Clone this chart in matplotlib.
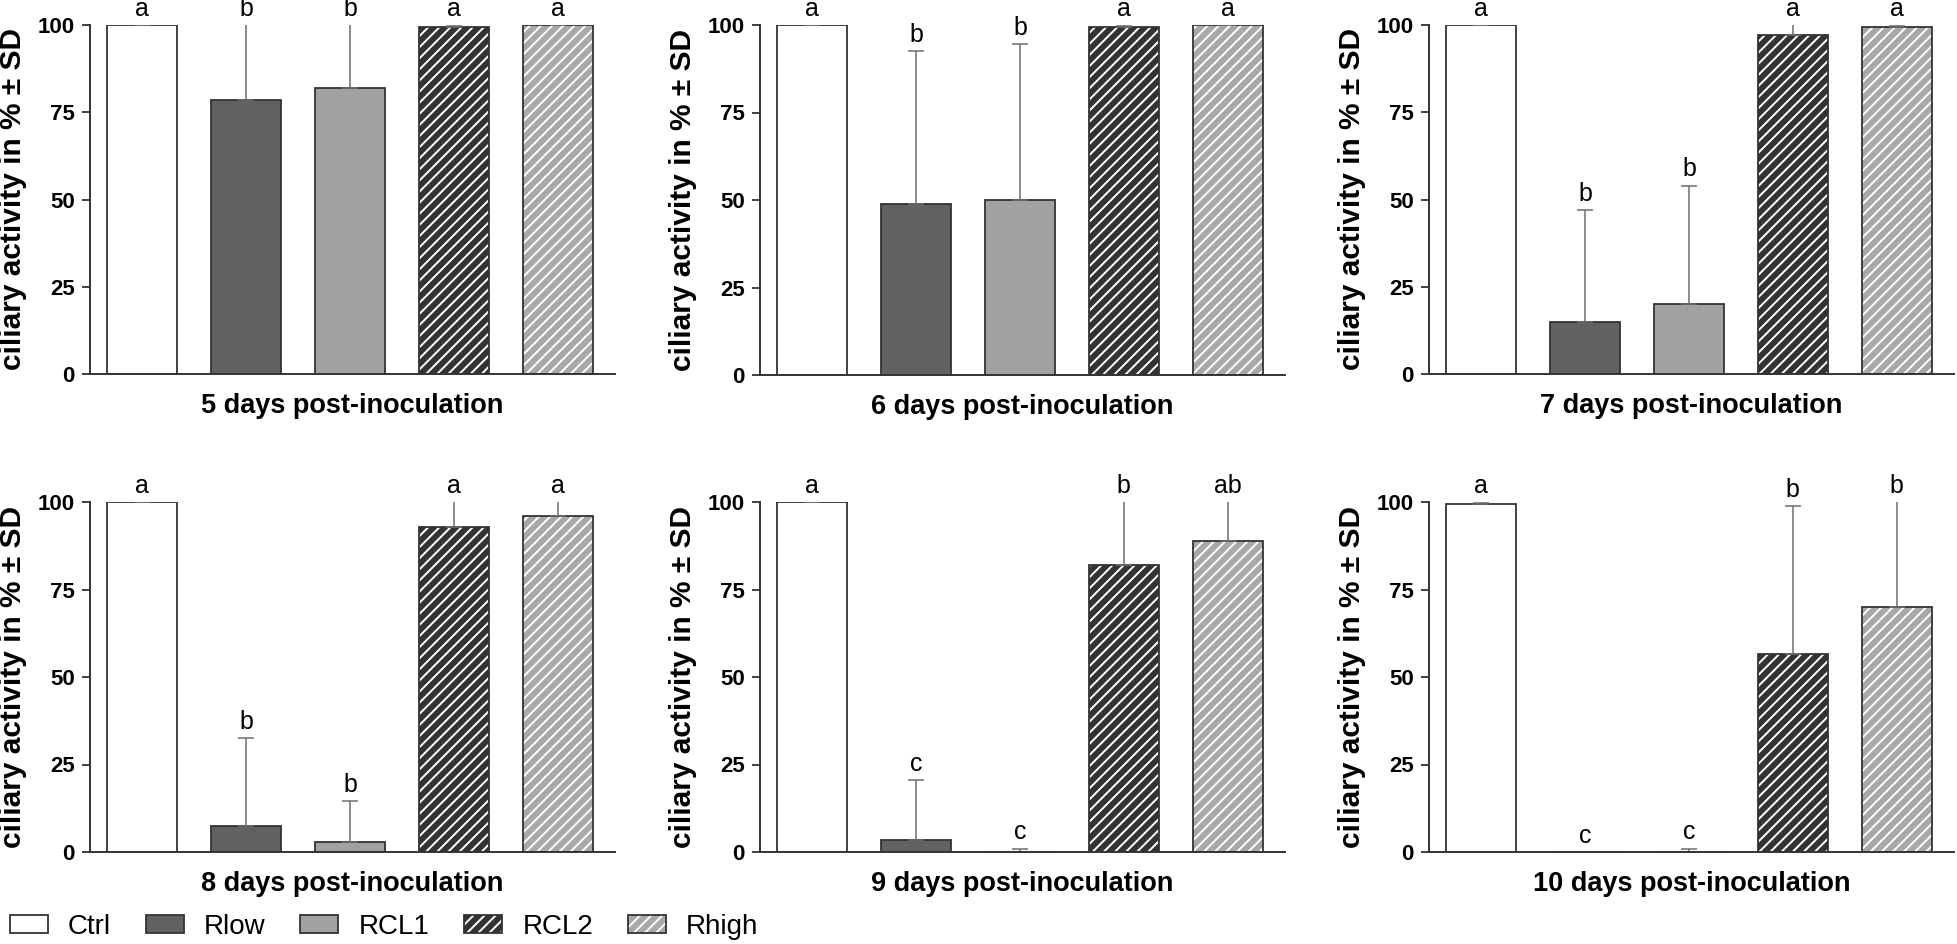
import matplotlib
matplotlib.use("Agg")
import matplotlib.pyplot as plt
import numpy as np
from matplotlib.patches import Patch
from matplotlib.legend_handler import HandlerTuple

plt.rcParams['font.family'] = ['Liberation Sans', 'DejaVu Sans']
plt.rcParams['hatch.linewidth'] = 1.4

groups = ['Ctrl', 'Rlow', 'RCL1', 'RCL2', 'Rhigh']
days = ['5 days post-inoculation', '6 days post-inoculation', '7 days post-inoculation',
        '8 days post-inoculation', '9 days post-inoculation', '10 days post-inoculation']

# mean ciliary activity (%) per group, one list per day
mean_d5 = [100, 78.5, 82, 99.5, 100]
mean_d6 = [100, 49, 50, 99.5, 100]
mean_d7 = [100, 15, 20, 97, 99.5]
mean_d8 = [100, 7.5, 3, 93, 96]
mean_d9 = [100, 3.5, 0, 82, 89]
mean_d10 = [99.5, 0, 0, 56.5, 70]

# upper SD
sd_d5 = [0, 30, 25, 0.5, 0]
sd_d6 = [0, 43.5, 44.5, 0.5, 0]
sd_d7 = [0, 32, 34, 3.5, 0.5]
sd_d8 = [0, 25, 11.5, 10, 6]
sd_d9 = [0, 17, 1, 25, 15]
sd_d10 = [0.5, 0, 1, 42.3, 35]

letters_d5 = ['a', 'b', 'b', 'a', 'a']
letters_d6 = ['a', 'b', 'b', 'a', 'a']
letters_d7 = ['a', 'b', 'b', 'a', 'a']
letters_d8 = ['a', 'b', 'b', 'a', 'a']
letters_d9 = ['a', 'c', 'c', 'b', 'ab']
letters_d10 = ['a', 'c', 'c', 'b', 'b']

means = [mean_d5, mean_d6, mean_d7, mean_d8, mean_d9, mean_d10]
sds = [sd_d5, sd_d6, sd_d7, sd_d8, sd_d9, sd_d10]
letters = [letters_d5, letters_d6, letters_d7, letters_d8, letters_d9, letters_d10]

face = ['white', '#616161', '#a1a1a1', '#333333', '#a8a8a8']
hatches = [None, None, None, '///', '///']
edge = '#333333'

fig = plt.figure(figsize=(19.58, 9.44), dpi=100)
W, H = 1958, 944
# axes boxes in pixels: left, right, top(y=100), bottom(y=0)
boxes = [(90, 615, 25, 374), (760, 1285, 25, 375), (1429, 1954, 25, 374),
         (90, 615, 502, 852), (760, 1285, 502, 852), (1429, 1954, 502, 852)]

x = np.arange(len(groups))
for i in range(6):
    l, r, t, b = boxes[i]
    ax = fig.add_axes([l / W, 1 - b / H, (r - l) / W, (b - t) / H])
    m = np.array(means[i])
    s = np.array(sds[i])
    for j in range(5):
        if hatches[j]:
            ax.bar(x[j], m[j], 0.67, color=face[j], edgecolor='white', hatch=hatches[j], linewidth=0)
            ax.bar(x[j], m[j], 0.67, fill=False, edgecolor=edge, linewidth=1.3)
        else:
            ax.bar(x[j], m[j], 0.67, color=face[j], edgecolor=edge, linewidth=1.3)
    ax.errorbar(x, m, yerr=[np.zeros(5), s], fmt='none', ecolor='#6e6e6e',
                elinewidth=1.1, capsize=6, capthick=1.1, zorder=1)
    for j in range(5):
        top = min(m[j] + s[j], 100)
        ax.text(x[j], top + 1.2, letters[i][j], ha='center', va='bottom',
                fontsize=18, clip_on=False)
    ax.set_ylim(0, 100)
    ax.set_xlim(-0.5, 4.55)
    ax.set_yticks([0, 25, 50, 75, 100])
    ax.set_xticks([])
    for lab in ax.get_yticklabels():
        lab.set_fontweight('bold')
    ax.tick_params(axis='y', labelsize=16, length=6, width=1.3, color='#333333', pad=5)
    ax.spines['top'].set_visible(False)
    ax.spines['right'].set_visible(False)
    ax.spines['left'].set_linewidth(1.4)
    ax.spines['bottom'].set_linewidth(1.4)
    ax.spines['left'].set_color('#333333')
    ax.spines['bottom'].set_color('#333333')
    ax.set_ylabel('ciliary activity in % ± SD', fontsize=21.5, fontweight='bold')
    ax.yaxis.set_label_coords(-63 / (r - l), 0.5)
    ax.set_xlabel(days[i], fontsize=19.5, fontweight='bold', labelpad=14)

handles = []
for j in range(5):
    if hatches[j]:
        handles.append((Patch(facecolor=face[j], edgecolor='white', hatch=hatches[j], linewidth=0),
                        Patch(fill=False, edgecolor=edge, linewidth=1.3)))
    else:
        handles.append(Patch(facecolor=face[j], edgecolor=edge, linewidth=1.3))
fig.legend(handles, groups, loc='center left', bbox_to_anchor=(4 / W, 0.018), ncol=5,
           frameon=False, fontsize=20, handlelength=1.37, handleheight=0.6,
           handletextpad=0.72, columnspacing=1.26, borderaxespad=0, borderpad=0.2,
           handler_map={tuple: HandlerTuple(ndivide=1, pad=0)})

fig.savefig('out.png', dpi=100)
